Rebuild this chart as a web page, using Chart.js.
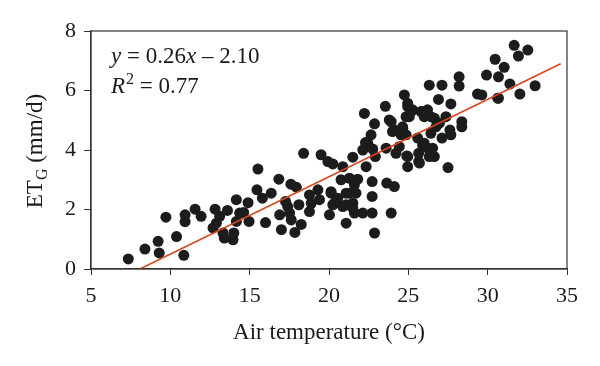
<!DOCTYPE html>
<html>
<head>
<meta charset="utf-8">
<script src="https://cdn.jsdelivr.net/npm/chart.js@4"></script>
<style>
  html, body { margin: 0; padding: 0; background: #ffffff; }
  #wrap { width: 600px; height: 366px; }
</style>
</head>
<body>
<div id="wrap"><canvas id="chart"></canvas></div>
<script>
/**
 * data
 */
var temperature = [
	7.35, 8.4, 9.23, 9.3, 9.72, 10.39, 10.85, 10.93, 10.93, 11.56,
	11.94, 12.82, 12.69, 12.9, 13.11, 13.32, 13.6, 13.4, 13.95, 14.0,
	14.16, 14.37, 14.16, 14.62, 14.9, 14.96, 15.52, 15.46, 15.8, 16.0,
	16.36, 16.84, 16.89, 17.0, 17.26, 17.4, 17.6, 17.52, 17.62, 17.85,
	17.94, 18.1, 18.4, 18.25, 18.77, 18.77, 18.88, 19.3, 19.4, 19.5,
	19.93, 20.24, 20.13, 20.24, 20.03, 20.45, 20.76, 20.87, 20.87, 21.08,
	21.29, 21.29, 21.5, 21.5, 21.6, 21.6, 21.7, 22.13, 22.23, 22.13,
	22.34, 22.44, 22.65, 22.72, 22.72, 22.72, 22.87, 22.92, 22.87, 23.55,
	23.64, 23.8, 23.92, 23.6, 24.12, 24.12, 24.22, 24.43, 24.64, 24.75,
	24.86, 24.96, 24.9, 24.96, 25.06, 25.27, 25.59, 25.65, 25.65, 25.9,
	26.0, 26.11, 26.21, 26.32, 26.42, 26.42, 26.53, 26.64, 26.64, 26.9,
	27.12, 27.12, 27.37, 27.5, 27.62, 27.68, 27.68, 28.2, 28.2, 28.37,
	28.37, 29.36, 29.63, 29.93, 30.47, 30.68, 30.68, 31.04, 31.4, 31.67,
	31.94, 32.03, 32.53, 32.99,
	23.92, 24.0, 24.54, 22.3, 22.76, 21.81, 20.13, 20.55, 21.08, 21.08,
	20.35, 21.5, 24.96, 25.17, 24.86, 24.65, 25.8, 26.0, 26.96, 26.74,
	25.9, 26.21, 26.32, 24.96, 25.7, 30.63
];
var etG = [
	0.34, 0.67, 0.93, 0.54, 1.74, 1.09, 0.46, 1.82, 1.59, 2.01,
	1.77, 2.01, 1.38, 1.54, 1.77, 1.21, 1.97, 1.04, 0.98, 1.21,
	2.33, 1.88, 1.6, 1.9, 2.23, 1.6, 3.36, 2.66, 2.38, 1.56,
	2.55, 3.02, 1.82, 1.32, 2.27, 2.1, 2.85, 1.88, 1.65, 1.23,
	2.75, 2.16, 3.89, 1.5, 2.49, 1.93, 2.21, 2.66, 2.33, 3.84,
	3.61, 3.53, 2.55, 2.16, 1.82, 2.27, 3.0, 3.44, 2.1, 1.54,
	3.05, 2.55, 3.76, 2.21, 1.88, 2.83, 2.55, 1.88, 5.23, 4.0,
	3.44, 4.23, 4.51, 2.94, 2.44, 1.88, 4.88, 3.78, 1.21, 5.47,
	2.89, 5.01, 1.88, 4.06, 2.77, 4.67, 3.89, 4.11, 4.78, 5.85,
	4.51, 5.57, 3.8, 3.44, 5.12, 5.35, 4.4, 3.89, 3.61, 5.29,
	4.23, 5.18, 5.35, 6.18, 4.56, 5.12, 4.06, 3.78, 5.07, 5.7,
	6.18, 4.4, 5.12, 3.41, 4.67, 5.55, 4.51, 6.46, 6.15, 4.95,
	4.78, 5.88, 5.85, 6.52, 7.05, 5.74, 6.46, 6.78, 6.22, 7.52,
	7.16, 5.88, 7.36, 6.16,
	4.95, 4.62, 4.51, 4.25, 4.03, 3.02, 2.6, 2.38, 2.55, 2.16,
	2.21, 2.05, 5.46, 5.29, 5.12, 4.73, 5.29, 5.12, 4.9, 4.78,
	4.16, 4.06, 3.78, 3.78, 3.56, 5.74
];

// fitted line, as printed on the chart
var fitSlope = 0.26;
var fitIntercept = -2.10;
var fitRange = [8.08, 34.6];

var xTicks = [5, 10, 15, 20, 25, 30, 35];
var yTicks = [0, 2, 4, 6, 8];

const pointColor = "#1c1c1c";
const lineColor = "#d8461e";
const axisColor = "#333333";
const serif = "'Liberation Serif', 'DejaVu Serif', serif";

/**
 * draws the frame, the y title with its subscript and the fit equation
 */
var annotate = {
	id: 'annotate',
	afterDraw(chart) {
		const ctx = chart.ctx;
		const a = chart.chartArea;
		ctx.save();
		ctx.strokeStyle = axisColor;
		ctx.lineWidth = 1.2;
		ctx.strokeRect(a.left, a.top, a.right - a.left, a.bottom - a.top);

		// y axis title, rotated
		ctx.fillStyle = "#1a1a1a";
		ctx.translate(42, 151);
		ctx.rotate(-Math.PI / 2);
		const big = "23px " + serif;
		const small = "16px " + serif;
		ctx.font = big;
		let w1 = ctx.measureText("ET").width;
		ctx.font = small;
		let w2 = ctx.measureText("G").width;
		ctx.font = big;
		let w3 = ctx.measureText(" (mm/d)").width;
		let x0 = -(w1 + w2 + w3) / 2;
		ctx.textBaseline = "alphabetic";
		ctx.fillText("ET", x0, 0);
		ctx.font = small;
		ctx.fillText("G", x0 + w1, 5);
		ctx.font = big;
		ctx.fillText(" (mm/d)", x0 + w1 + w2, 0);
		ctx.restore();

		// equation
		ctx.save();
		ctx.fillStyle = "#1a1a1a";
		ctx.textBaseline = "alphabetic";
		const it = "italic 23px " + serif;
		let x = 111;
		ctx.font = it;
		ctx.fillText("y", x, 63);
		x += ctx.measureText("y").width;
		ctx.font = big;
		ctx.fillText(" = 0.26", x, 63);
		x += ctx.measureText(" = 0.26").width;
		ctx.font = it;
		ctx.fillText("x", x, 63);
		x += ctx.measureText("x").width;
		ctx.font = big;
		ctx.fillText(" \u2013 2.10", x, 63);

		x = 111;
		ctx.font = it;
		ctx.fillText("R", x, 93);
		x += ctx.measureText("R").width + 1;
		ctx.font = small;
		ctx.fillText("2", x, 84);
		x += ctx.measureText("2").width;
		ctx.font = big;
		ctx.fillText(" = 0.77", x, 93);
		ctx.restore();
	}
};

function toPoints(xs, ys) {
	return xs.map((v, i) => ({ x: v, y: ys[i] }));
}

function newScatter(id) {
	const config = {
		type: 'scatter',
		data: {
			datasets: [
				{
					label: 'fit',
					type: 'line',
					data: fitRange.map(v => ({ x: v, y: fitSlope * v + fitIntercept })),
					borderColor: lineColor,
					borderWidth: 1.6,
					pointRadius: 0,
					fill: false,
					order: 0
				},
				{
					label: 'ETG',
					data: toPoints(temperature, etG),
					backgroundColor: pointColor,
					borderWidth: 0,
					pointRadius: 5.5,
					order: 1
				}
			]
		},
		options: {
			responsive: false,
			animation: false,
			layout: { padding: { top: 31, right: 33, left: 0, bottom: 0 } },
			plugins: {
				legend: { display: false },
				tooltip: { enabled: false }
			},
			scales: {
				x: {
					type: 'linear',
					min: 5,
					max: 35,
					afterBuildTicks: axis => { axis.ticks = xTicks.map(v => ({ value: v })); },
					afterFit: axis => { axis.height = 97; },
					grid: { drawOnChartArea: false, tickLength: 6, color: axisColor, tickColor: axisColor },
					border: { color: axisColor, width: 1.2 },
					ticks: { color: "#1a1a1a", font: { family: serif, size: 22 }, padding: 8, maxRotation: 0 },
					title: {
						display: true,
						text: 'Air temperature (\u00B0C)',
						color: "#1a1a1a",
						font: { family: serif, size: 23 },
						padding: { top: 4, bottom: 19 }
					}
				},
				y: {
					type: 'linear',
					min: 0,
					max: 8,
					afterBuildTicks: axis => { axis.ticks = yTicks.map(v => ({ value: v })); },
					afterFit: axis => { axis.width = 91; },
					grid: { drawOnChartArea: false, tickLength: 7, color: axisColor, tickColor: axisColor },
					border: { color: axisColor, width: 1.2 },
					ticks: { color: "#1a1a1a", font: { family: serif, size: 22 }, padding: 8 }
				}
			}
		},
		plugins: [annotate]
	};
	return new Chart(id, config);
}

const canvas = document.getElementById('chart');
canvas.width = 600;
canvas.height = 366;
newScatter(canvas);
</script>
</body>
</html>
